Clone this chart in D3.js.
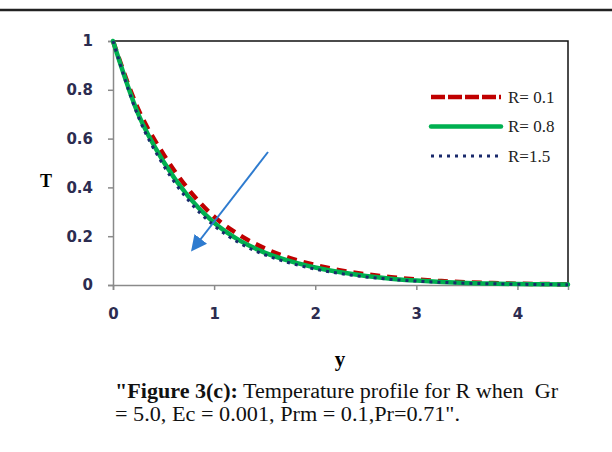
<!DOCTYPE html>
<html>
<head>
<meta charset="utf-8">
<script src="https://cdn.jsdelivr.net/npm/d3@7"></script>
<style>
  body { margin: 0; background: #fff; }
  svg { display: block; }
</style>
</head>
<body>
<script>
  const yPoints = [0, 0.25, 0.5, 0.75, 1.0, 1.25, 1.5, 1.75, 2.0, 2.25, 2.5, 2.75, 3.0, 3.25, 3.5, 3.75, 4.0, 4.25, 4.5];
  // temperature T for each R
  const tR01 = [1.0, 0.72, 0.535, 0.39, 0.28, 0.205, 0.150, 0.110, 0.082, 0.060, 0.044, 0.032, 0.023, 0.016, 0.011, 0.008, 0.005, 0.004, 0.003];
  const tR08 = [1.0, 0.70, 0.505, 0.36, 0.255, 0.183, 0.133, 0.098, 0.072, 0.052, 0.037, 0.026, 0.018, 0.012, 0.008, 0.006, 0.004, 0.003, 0.002];
  const tR15 = [1.0, 0.69, 0.49, 0.345, 0.243, 0.172, 0.124, 0.090, 0.065, 0.047, 0.033, 0.023, 0.016, 0.011, 0.007, 0.005, 0.003, 0.002, 0.001];
  const seriesNames = ['R= 0.1', 'R= 0.8', 'R=1.5'];
  const xTicks = [0, 1, 2, 3, 4];
  const yTicks = [0, 0.2, 0.4, 0.6, 0.8, 1];

  const W = 612, H = 452;
  const margin = {top: 41, left: 113, right: 44, bottom: 167};
  const width = W - margin.left - margin.right;
  const height = H - margin.top - margin.bottom;

  const svg = d3.select('body').append('svg')
    .attr('width', W).attr('height', H);
  svg.append('rect').attr('width', W).attr('height', H).attr('fill', '#fff');

  // page rule at the top
  svg.append('line')
    .attr('x1', 0).attr('x2', W).attr('y1', 10).attr('y2', 10)
    .attr('stroke', '#222').attr('stroke-width', 2.5);

  const g = svg.append('g')
    .attr('transform', `translate(${margin.left},${margin.top})`);

  const x = d3.scaleLinear().domain([0, 4.5]).range([0, width]);
  const y = d3.scaleLinear().domain([0, 1]).range([height, 0]);

  // top and right frame lines
  g.append('path')
    .attr('d', `M0,${y(1)}H${x(4.5)}V${y(0)}`)
    .attr('fill', 'none').attr('stroke', '#111').attr('stroke-width', 1.5);

  const tickFont = 'DejaVu Sans, Verdana, sans-serif';
  const xAxis = g.append('g')
    .attr('transform', `translate(0,${height})`)
    .call(d3.axisBottom(x).tickValues(xTicks).tickSize(5).tickPadding(18).tickFormat(d3.format('d')));
  const yAxis = g.append('g')
    .call(d3.axisLeft(y).tickValues(yTicks).tickSize(5).tickPadding(15).tickFormat(d => d === 0 || d === 1 ? d : d3.format('.1f')(d)));
  [xAxis, yAxis].forEach(a => {
    a.select('.domain').attr('stroke', '#8a8a8a').attr('stroke-width', 1.5);
    a.selectAll('.tick line').attr('stroke', '#8a8a8a').attr('stroke-width', 1.5);
    a.selectAll('.tick text')
      .attr('fill', '#2c2c50')
      .style('font-family', tickFont)
      .style('font-weight', 'bold')
      .style('font-size', '15px');
  });

  const line = d3.line()
    .x((d, i) => x(yPoints[i]))
    .y(d => y(d))
    .curve(d3.curveMonotoneX);

  const styles = [
    {data: tR01, color: '#c00000', w: 4.5, dash: '10,7', cap: 'butt'},
    {data: tR08, color: '#00b050', w: 4.5, dash: null, cap: 'round'},
    {data: tR15, color: '#1a2a6c', w: 3, dash: '3,5', cap: 'butt'}
  ];

  styles.forEach(s => {
    g.append('path')
      .datum(s.data)
      .attr('d', line)
      .attr('fill', 'none')
      .attr('stroke', s.color)
      .attr('stroke-width', s.w)
      .attr('stroke-linecap', s.cap)
      .attr('stroke-dasharray', s.dash);
  });

  // legend
  const legend = svg.append('g');
  const legendY = [97, 126.5, 156];
  const legendDash = ['14,3', null, '3,5'];
  styles.forEach((s, i) => {
    legend.append('line')
      .attr('x1', 431).attr('x2', 501)
      .attr('y1', legendY[i]).attr('y2', legendY[i])
      .attr('stroke', s.color)
      .attr('stroke-width', s.w)
      .attr('stroke-linecap', s.cap)
      .attr('stroke-dasharray', legendDash[i]);
    legend.append('text')
      .attr('x', 508).attr('y', legendY[i] + 5.5)
      .attr('fill', '#222')
      .style('font-family', 'Liberation Serif, Times New Roman, serif')
      .style('font-size', '17px')
      .text(seriesNames[i]);
  });

  // arrow showing the effect of increasing R
  svg.append('defs').append('marker')
    .attr('id', 'arr').attr('viewBox', '0 0 10 10')
    .attr('refX', 8).attr('refY', 5)
    .attr('markerWidth', 8).attr('markerHeight', 8)
    .attr('markerUnits', 'strokeWidth')
    .attr('orient', 'auto')
    .append('path').attr('d', 'M0,0L10,5L0,10Z').attr('fill', '#2e7bcf');
  svg.append('line')
    .attr('x1', 268).attr('y1', 152).attr('x2', 193).attr('y2', 249)
    .attr('stroke', '#2e7bcf').attr('stroke-width', 2)
    .attr('marker-end', 'url(#arr)');

  // axis titles
  const serif = 'Liberation Serif, Times New Roman, serif';
  svg.append('text')
    .attr('x', 46).attr('y', 187)
    .attr('text-anchor', 'middle')
    .style('font-family', serif).style('font-weight', 'bold').style('font-size', '18px')
    .text('T');
  svg.append('text')
    .attr('x', 340).attr('y', 366)
    .attr('text-anchor', 'middle')
    .style('font-family', serif).style('font-weight', 'bold').style('font-size', '21px')
    .text('y');

  // caption
  const cap1 = svg.append('text')
    .attr('x', 115).attr('y', 398)
    .attr('textLength', 443).attr('lengthAdjust', 'spacingAndGlyphs')
    .style('font-family', serif).style('font-size', '20px').attr('fill', '#111');
  cap1.append('tspan').style('font-weight', 'bold').text('"Figure 3(c):');
  cap1.append('tspan').text(' Temperature profile for R when \u00a0Gr');
  svg.append('text')
    .attr('x', 115).attr('y', 421)
    .attr('textLength', 345).attr('lengthAdjust', 'spacingAndGlyphs')
    .style('font-family', serif).style('font-size', '20px').attr('fill', '#111')
    .text('= 5.0, Ec = 0.001, Prm = 0.1,Pr=0.71".');
</script>
</body>
</html>
